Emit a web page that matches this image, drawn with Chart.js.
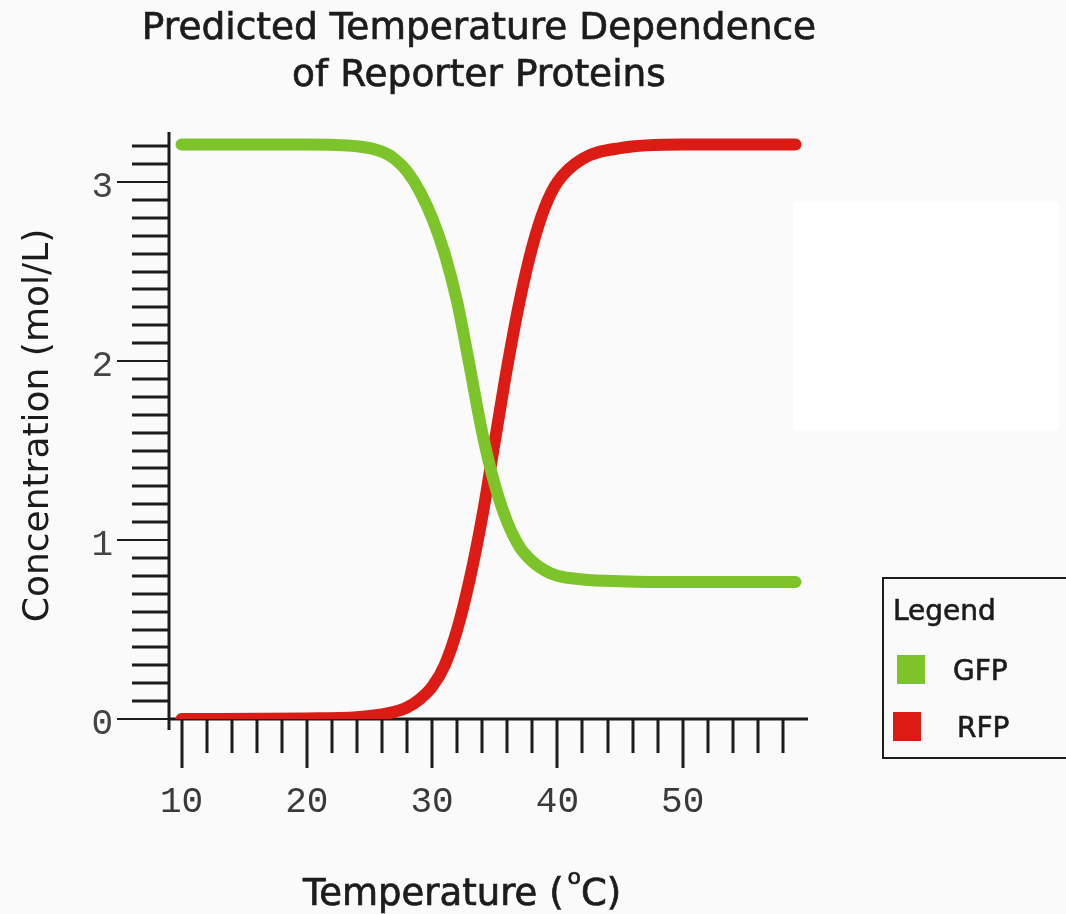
<!DOCTYPE html>
<html lang="en">
<head>
<meta charset="UTF-8">
<title>Predicted Temperature Dependence of Reporter Proteins</title>
<script src="https://cdn.jsdelivr.net/npm/chart.js@4.4.1/dist/chart.umd.min.js"></script>
<style>
  body { margin: 0; background: #fafafa; }
  .wrap { position: relative; width: 1066px; height: 914px; }
  .blank { position: absolute; left: 793px; top: 202px; width: 266px; height: 228px; background: #fff; }
  canvas { position: absolute; left: 0; top: 0; }
</style>
</head>
<body>
<div class="wrap">
  <div class="blank"></div>
  <canvas id="chart" width="1066" height="914"></canvas>
</div>
<script>
// temperature (°C) sampled along both curves
const temps = [10, 20, 24, 26, 27, 28, 29, 30, 31, 32, 33, 34, 35, 36, 37, 38, 39, 40, 42, 45, 50, 59];
// concentration (mol/L)
const gfpConc = [3.21, 3.21, 3.20, 3.17, 3.13, 3.06, 2.95, 2.80, 2.60, 2.33, 1.97, 1.60, 1.31, 1.10, 0.96, 0.88, 0.83, 0.80, 0.78, 0.77, 0.765, 0.765];
const rfpConc = [0, 0.003, 0.01, 0.025, 0.04, 0.065, 0.11, 0.18, 0.30, 0.50, 0.78, 1.13, 1.55, 1.97, 2.34, 2.64, 2.86, 3.00, 3.13, 3.19, 3.21, 3.21];
const xTickLabels = [10, 20, 30, 40, 50];
const yTickLabels = [0, 1, 2, 3];

const GREEN = '#7dc42a';
const RED = '#dc1c14';
const INK = '#1c1c1c';

// axis lines and the long/short tick marks (drawn under the curves)
const axesPlugin = {
  id: 'axes',
  beforeDatasetsDraw(chart) {
    const { ctx, scales: { x, y } } = chart;
    const ax = x.getPixelForValue(x.min);
    const ay = y.getPixelForValue(0);
    const seg = (x1, y1, x2, y2, w) => {
      ctx.lineWidth = w;
      ctx.beginPath(); ctx.moveTo(x1, y1); ctx.lineTo(x2, y2); ctx.stroke();
    };
    ctx.save();
    ctx.strokeStyle = INK;
    // y: minor every 0.1 up to 3.2, major on the integers
    for (let i = 1; i <= 32; i++) {
      if (i % 10 === 0) continue;
      const py = Math.round(y.getPixelForValue(i / 10));
      seg(ax - 37, py, ax, py, 3);
    }
    yTickLabels.forEach(v => {
      const py = Math.round(y.getPixelForValue(v));
      seg(ax - 52, py, ax, py, 2);
    });
    // x: every 2 degrees, longer on the labelled ones
    for (let t = 10; t <= 58; t += 2) {
      const px = Math.round(x.getPixelForValue(t));
      seg(px, ay, px, ay + (xTickLabels.includes(t) ? 49 : 34), 3);
    }
    seg(ax, y.getPixelForValue(y.max), ax, ay + 11, 3);
    seg(ax, ay, x.getPixelForValue(x.max), ay, 3);
    ctx.restore();
  }
};

// slightly heavier text, like the reference
function heavyText(ctx, s, x, y) {
  ctx.fillText(s, x, y);
  ctx.strokeText(s, x, y);
}

// two-line title, x title with raised "o", and the boxed legend
const textPlugin = {
  id: 'texts',
  afterDraw(chart) {
    const { ctx } = chart;
    ctx.save();
    ctx.fillStyle = INK;
    ctx.strokeStyle = INK;
    ctx.lineWidth = 0.7;
    ctx.textBaseline = 'alphabetic';
    ctx.font = '37.5px "DejaVu Sans"';
    ctx.textAlign = 'center';
    heavyText(ctx, 'Predicted Temperature Dependence', 479, 39);
    heavyText(ctx, 'of Reporter Proteins', 479, 86);

    ctx.textAlign = 'left';
    ctx.font = '37px "DejaVu Sans"';
    let tx = 303;
    const part1 = 'Temperature (';
    heavyText(ctx, part1, tx, 905);
    tx += ctx.measureText(part1).width;
    ctx.font = '22px "DejaVu Sans"';
    heavyText(ctx, 'o', tx + 4, 884);
    tx += 4 + ctx.measureText('o').width;
    ctx.font = '37px "DejaVu Sans"';
    heavyText(ctx, 'C)', tx, 905);

    // legend
    ctx.lineWidth = 2;
    ctx.strokeRect(883, 578, 200, 180);
    ctx.lineWidth = 0.6;
    ctx.font = '28px "DejaVu Sans"';
    heavyText(ctx, 'Legend', 893, 620);
    const rows = [[897, 655, 953, 680], [893, 712, 957, 737]];
    chart.data.datasets.forEach((ds, i) => {
      const r = rows[i];
      ctx.fillStyle = ds.borderColor;
      ctx.fillRect(r[0], r[1], 28, 29);
      ctx.fillStyle = INK;
      heavyText(ctx, ds.label, r[2], r[3]);
    });
    ctx.restore();
  }
};

const toPoints = vals => temps.map((t, i) => ({ x: t, y: vals[i] }));

new Chart(document.getElementById('chart'), {
  type: 'line',
  data: {
    datasets: [
      { label: 'GFP', data: toPoints(gfpConc), borderColor: GREEN, backgroundColor: GREEN },
      { label: 'RFP', data: toPoints(rfpConc), borderColor: RED, backgroundColor: RED }
    ]
  },
  options: {
    responsive: false,
    animation: false,
    devicePixelRatio: 1,
    layout: { padding: { top: 132, right: 258, left: 0, bottom: 0 } },
    elements: {
      line: { borderWidth: 12, cubicInterpolationMode: 'monotone', borderCapStyle: 'round', borderJoinStyle: 'round' },
      point: { radius: 0 }
    },
    plugins: { legend: { display: false }, title: { display: false }, tooltip: { enabled: false } },
    scales: {
      x: {
        type: 'linear',
        min: 9,
        max: 60,
        afterBuildTicks: s => { s.ticks = xTickLabels.map(v => ({ value: v })); },
        afterFit: s => { s.height = 195; },
        grid: { display: false, drawTicks: false },
        border: { display: false },
        ticks: { autoSkip: false, maxRotation: 0, padding: 62, color: '#3a3a3a', font: { family: 'Liberation Mono', size: 36 } }
      },
      y: {
        min: 0,
        max: 3.28,
        afterBuildTicks: s => { s.ticks = yTickLabels.map(v => ({ value: v })); },
        afterFit: s => { s.width = 169; },
        grid: { display: false, drawTicks: false },
        border: { display: false },
        ticks: { padding: 56, labelOffset: 5, color: '#444', font: { family: 'Liberation Mono', size: 36 } },
        title: {
          display: true,
          text: 'Concentration (mol/L)',
          color: INK,
          font: { family: 'DejaVu Sans', size: 36 },
          padding: { top: 17, bottom: 0 }
        }
      }
    }
  },
  plugins: [axesPlugin, textPlugin]
});
</script>
</body>
</html>
